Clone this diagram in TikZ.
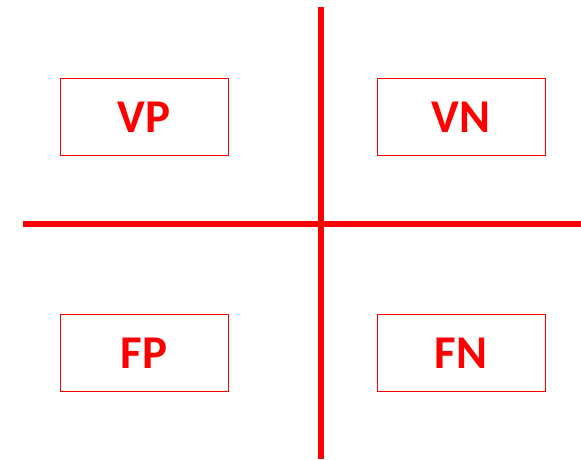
\documentclass[tikz,border=0pt]{standalone}
\usepackage{fontspec}
\setmainfont{Carlito}
\begin{document}
\begin{tikzpicture}[x=1pt,y=-1pt,
  quad/.style={draw=red,line width=0.9pt,minimum width=168pt,minimum height=77pt,inner sep=0pt,
    text=red,font=\fontsize{47}{56}\selectfont\bfseries},
  axis/.style={draw=red,line width=5.5pt}]
\useasboundingbox (0,0) rectangle (581,459);
\coordinate (top) at (321,7);
\coordinate (bottom) at (321,459);
\coordinate (left) at (23,224);
\coordinate (right) at (581,224);
\draw[axis] (top) -- (bottom);
\draw[axis] (left) -- (right);
\node[quad] (vp) at (144,117) {VP};
\node[quad] (vn) at (461,117) {VN};
\node[quad] (fp) at (144,353) {FP};
\node[quad] (fn) at (461,353) {FN};
\end{tikzpicture}
\end{document}
